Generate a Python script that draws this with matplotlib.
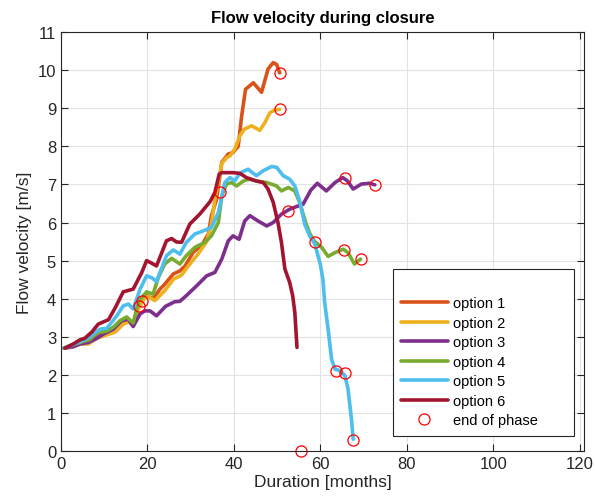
import matplotlib.pyplot as plt

plt.rcParams['font.family'] = ['Liberation Sans', 'DejaVu Sans']

# --- data ---
m1 = [0.7, 2.1, 3.5, 5.2, 6.7, 8.3, 10.6, 12.1, 13.6, 15.2, 16.7, 17.9, 19.8, 21.3, 22.9, 24.0, 26.0, 27.5,
      28.7, 30.6, 32.5, 34.1, 34.8, 36.0, 37.2, 38.7, 39.8, 41.0, 41.8, 42.7, 44.5, 46.4, 47.9, 49.1, 49.9, 50.6]
v1 = [2.70, 2.76, 2.80, 2.85, 2.90, 3.07, 3.12, 3.20, 3.38, 3.46, 3.29, 3.86, 4.08, 4.00, 4.25, 4.38, 4.65, 4.73,
      4.86, 5.22, 5.39, 5.70, 6.18, 6.61, 7.58, 7.80, 7.84, 8.00, 8.80, 9.50, 9.67, 9.42, 10.03, 10.20, 10.15, 9.93]

m2 = [0.7, 2.9, 4.4, 6.3, 8.3, 10.6, 12.5, 14.4, 15.6, 16.7, 17.9, 19.4, 20.2, 21.7, 24.0, 26.0, 27.9,
      29.8, 31.7, 33.7, 34.8, 35.6, 37.2, 38.3, 39.1, 40.2, 41.4, 42.4, 44.1, 46.0, 47.2, 48.3, 49.5, 50.6]
v2 = [2.70, 2.74, 2.81, 2.81, 2.96, 3.05, 3.12, 3.33, 3.39, 3.31, 3.73, 4.03, 4.05, 3.95, 4.21, 4.51, 4.62,
      4.91, 5.17, 5.50, 5.95, 6.60, 7.55, 7.70, 7.75, 7.93, 8.28, 8.45, 8.54, 8.42, 8.63, 8.88, 8.96, 8.97]

m3 = [0.7, 2.9, 4.4, 6.3, 8.3, 9.8, 12.1, 14.0, 15.6, 16.7, 18.3, 19.4, 20.6, 22.1, 24.2, 26.3, 27.5, 29.0,
      31.4, 33.7, 35.6, 37.2, 38.7, 39.8, 41.2, 42.5, 43.7, 45.6, 47.6, 49.1, 51.0, 52.9, 54.5, 56.0, 57.8,
      59.3, 61.4, 63.4, 65.2, 66.3, 67.6, 69.5, 71.4, 72.6]
v3 = [2.70, 2.74, 2.81, 2.85, 2.96, 3.07, 3.20, 3.42, 3.46, 3.27, 3.60, 3.68, 3.68, 3.55, 3.80, 3.92, 3.93, 4.08,
      4.34, 4.60, 4.69, 5.04, 5.52, 5.65, 5.56, 6.04, 6.18, 6.04, 5.91, 6.00, 6.22, 6.35, 6.42, 6.48, 6.85,
      7.03, 6.83, 7.05, 7.18, 7.09, 6.88, 7.01, 7.03, 6.99]

m4 = [0.7, 2.1, 3.5, 5.2, 6.7, 8.3, 10.6, 12.1, 13.6, 15.2, 16.7, 17.9, 19.8, 21.3, 22.5, 24.0, 25.6, 27.5,
      29.0, 31.0, 33.3, 34.8, 36.4, 37.2, 38.3, 39.5, 40.6, 42.2, 43.5, 45.2, 47.6, 49.9, 51.0, 52.6, 54.1,
      55.3, 56.6, 57.6, 58.7, 60.3, 61.8, 63.4, 65.3, 66.4, 67.9, 69.3]
v4 = [2.70, 2.77, 2.82, 2.88, 2.93, 3.10, 3.15, 3.25, 3.42, 3.52, 3.36, 3.92, 4.18, 4.12, 4.55, 4.91, 5.06, 4.91,
      5.13, 5.35, 5.48, 5.65, 6.00, 6.70, 7.01, 7.05, 6.96, 7.09, 7.14, 7.09, 7.05, 6.96, 6.83, 6.92, 6.83,
      6.50, 6.00, 5.70, 5.50, 5.35, 5.11, 5.21, 5.30, 5.21, 4.91, 5.04]

m5 = [0.7, 2.5, 4.4, 6.0, 7.5, 9.0, 10.6, 12.9, 14.4, 15.6, 16.7, 18.3, 19.8, 21.0, 22.1, 24.4, 26.0, 27.5,
      29.0, 31.0, 32.9, 34.8, 36.4, 37.9, 39.1, 40.2, 41.4, 43.3, 45.2, 46.8, 48.7, 49.9, 51.4, 52.9, 54.1,
      55.3, 56.4, 57.6, 58.7, 60.0, 60.6, 61.0, 61.8, 62.6, 63.4, 64.5, 65.7, 66.4, 67.2, 67.6]
v5 = [2.70, 2.78, 2.87, 2.95, 3.07, 3.20, 3.22, 3.55, 3.81, 3.86, 3.73, 4.25, 4.60, 4.55, 4.45, 5.13, 5.28, 5.17,
      5.48, 5.70, 5.78, 5.87, 6.26, 7.05, 7.18, 7.09, 7.30, 7.40, 7.23, 7.36, 7.47, 7.45, 7.23, 7.14, 6.96,
      6.53, 5.95, 5.63, 5.45, 4.90, 4.51, 3.90, 3.20, 2.41, 2.15, 2.11, 1.98, 1.63, 0.84, 0.31]

m6 = [0.9, 2.85, 4.4, 5.5, 7.1, 8.6, 9.8, 11.0, 12.5, 14.4, 16.0, 16.7, 18.7, 19.8, 21.0, 22.1, 24.4, 25.6,
      26.7, 27.9, 29.8, 32.1, 34.5, 35.6, 36.6, 37.2, 39.8, 41.4, 42.9, 45.2, 46.8, 47.9, 49.1, 50.2, 51.0,
      51.8, 52.9, 53.6, 54.1, 54.6]
v6 = [2.70, 2.81, 2.92, 2.96, 3.12, 3.33, 3.39, 3.45, 3.75, 4.18, 4.23, 4.25, 4.69, 5.00, 4.93, 4.86, 5.52, 5.58,
      5.49, 5.48, 5.96, 6.22, 6.55, 6.79, 7.27, 7.31, 7.31, 7.29, 7.18, 7.09, 7.05, 6.88, 6.53, 6.00, 5.48,
      4.78, 4.43, 4.08, 3.64, 2.72]

# end of phase markers
end_m = [18.0, 18.8, 36.8, 50.6, 50.6, 52.6, 55.6, 58.7, 63.6, 65.6, 65.5, 65.7, 67.6, 69.3, 72.6]
end_v = [3.82, 3.95, 6.81, 9.93, 8.97, 6.31, 0.0, 5.50, 2.09, 2.06, 5.28, 7.16, 0.29, 5.03, 6.99]

labels = ["option 1", "option 2", "option 3", "option 4", "option 5", "option 6"]
colors = ["#D95319", "#EDB120", "#7E2F8E", "#77AC30", "#4DBEEE", "#A2142F"]

# --- PLOT ---
fig = plt.figure(figsize=(5.95, 5.02), dpi=100)
ax = fig.add_axes([0.1025, 0.0996, 0.879, 0.8344])

series = [(m1, v1), (m2, v2), (m3, v3), (m4, v4), (m5, v5), (m6, v6)]
for (m, v), lab, c in zip(series, labels, colors):
    ax.plot(m, v, color=c, linewidth=2.6, label=lab, solid_capstyle="round")
ax.plot(end_m, end_v, "o", mfc="none", mec="#FF0000", ms=8, mew=0.9, label="end of phase", clip_on=False)

ax.set_xlim(0, 121)
ax.set_ylim(0, 11)
ax.set_xticks(range(0, 121, 20))
ax.set_yticks(range(0, 12))
ax.grid(True, color="#e3e3e3", linewidth=0.8)
ax.set_axisbelow(True)
ax.tick_params(direction="in", top=True, right=True, length=5, labelsize=12, colors="#262626")
for s in ax.spines.values():
    s.set_color("#262626")
    s.set_linewidth(0.8)

ax.set_title("Flow velocity during closure", fontsize=12, fontweight="bold", pad=7)
ax.set_xlabel("Duration [months]", fontsize=12.5, color="#262626", labelpad=2)
ax.set_ylabel("Flow velocity [m/s]", fontsize=12.5, color="#262626", labelpad=4)

# MATLAB-style legend box: wider than its content, blank strip at top
leg = ax.legend(loc="lower left", bbox_to_anchor=(0.635, 0.037, 0.346, 0.3), mode="expand",
                fontsize=10.5, title=" ", title_fontsize=10.5, handlelength=3.2,
                handletextpad=0.35, labelspacing=0.38, borderpad=0.55, borderaxespad=0,
                fancybox=False, edgecolor="#262626", framealpha=1)
leg.get_frame().set_linewidth(0.8)

fig.savefig("out.png", dpi=100)
